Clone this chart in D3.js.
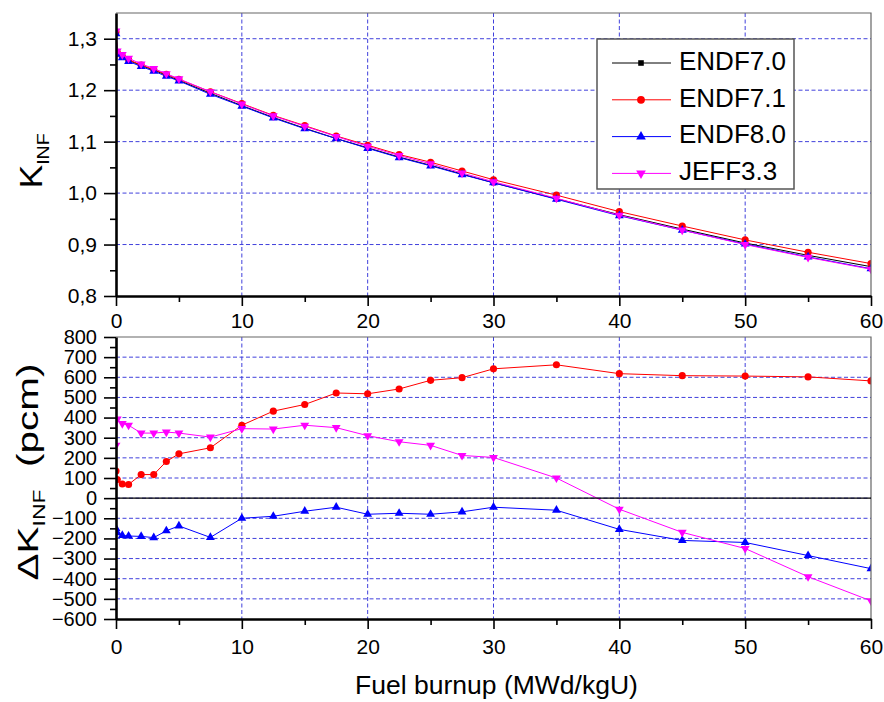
<!DOCTYPE html>
<html>
<head>
<meta charset="utf-8">
<script src="https://cdn.jsdelivr.net/npm/d3@7"></script>
<style>
body { margin: 0; background: #ffffff; }
svg text { font-family: "Liberation Sans", Arial, sans-serif; fill: #000; }
</style>
</head>
<body>
<div id="Chart"></div>
<script>
// ------------------------------------------------------------------
//	kinf / delta kinf vs burnup, four libraries
// ------------------------------------------------------------------
const burnup = [0, 0.1, 0.5, 1, 2, 3, 4, 5, 7.5, 10, 12.5, 15, 17.5, 20, 22.5, 25, 27.5, 30, 35, 40, 45, 50, 55, 60]

const k_endf70 = [1.312, 1.272, 1.265, 1.258, 1.248, 1.239, 1.229, 1.219, 1.194, 1.170, 1.147, 1.126, 1.106, 1.088, 1.070, 1.054, 1.037, 1.020, 0.989, 0.958, 0.930, 0.903, 0.879, 0.857]
const k_endf71 = [1.313, 1.273, 1.266, 1.259, 1.249, 1.240, 1.231, 1.221, 1.197, 1.174, 1.151, 1.131, 1.111, 1.093, 1.075, 1.060, 1.043, 1.026, 0.996, 0.964, 0.936, 0.909, 0.885, 0.863]
const k_endf80 = [1.310, 1.270, 1.263, 1.256, 1.246, 1.237, 1.227, 1.218, 1.192, 1.169, 1.146, 1.125, 1.106, 1.087, 1.069, 1.053, 1.036, 1.020, 0.988, 0.956, 0.928, 0.901, 0.876, 0.853]
const k_jeff33  = [1.315, 1.276, 1.269, 1.262, 1.251, 1.242, 1.232, 1.222, 1.197, 1.173, 1.150, 1.130, 1.110, 1.091, 1.073, 1.057, 1.039, 1.022, 0.990, 0.957, 0.928, 0.900, 0.875, 0.852]

// differences against ENDF7.0 (pcm)
const dk_endf71 = [135, 92, 70, 68, 117, 117, 182, 220, 250, 362, 432, 465, 522, 518, 542, 585, 598, 642, 662, 618, 608, 606, 602, 582]
const dk_endf80 = [-150, -172, -185, -188, -190, -196, -162, -138, -195, -100, -90, -65, -45, -80, -75, -80, -68, -45, -60, -155, -210, -220, -285, -350]
const dk_jeff33 = [262, 393, 370, 362, 323, 323, 328, 323, 303, 345, 343, 362, 350, 310, 280, 262, 212, 202, 100, -55, -170, -250, -390, -510]

const series_names = ["ENDF7.0", "ENDF7.1", "ENDF8.0", "JEFF3.3"]

const burnup_ticks = [0, 10, 20, 30, 40, 50, 60]
const burnup_minor = [5, 15, 25, 35, 45, 55]
const k_ticks = [0.8, 0.9, 1.0, 1.1, 1.2, 1.3]
const k_minor = [0.85, 0.95, 1.05, 1.15, 1.25]
const dk_ticks = [-600, -500, -400, -300, -200, -100, 0, 100, 200, 300, 400, 500, 600, 700, 800]
const dk_minor = [-550, -450, -350, -250, -150, -50, 50, 150, 250, 350, 450, 550, 650, 750]

// ------------------------------------------------------------------
const colors = ["#000000", "#ff0000", "#0000ff", "#ff00ff"]
const symbols = [
	{type: d3.symbolSquare, size: 26, rot: 0},
	{type: d3.symbolCircle, size: 40, rot: 0},
	{type: d3.symbolTriangle, size: 34, rot: 0},
	{type: d3.symbolTriangle, size: 34, rot: 180}
]
const grid_color = "#4040dc"
const width = 884
const height = 702
const left = 116, right = 871

const svg = d3.select("#Chart").append("svg")
	.attr("width", width)
	.attr("height", height)

const x = d3.scaleLinear().domain([0, 60]).range([left, right])
const y_top = d3.scaleLinear().domain([0.8, 1.35]).range([296, 13])
const y_bot = d3.scaleLinear().domain([-600, 800]).range([619, 337])

const comma = function (v) { return d3.format(".1f")(v).replace(".", ",") }

panel_proc("top", y_top, k_ticks, k_minor, comma,
	[k_endf70, k_endf71, k_endf80, k_jeff33], [0, 1, 2, 3], 322, 21)
panel_proc("bot", y_bot, dk_ticks, dk_minor, d3.format("d"),
	[dk_endf71, dk_endf80, dk_jeff33], [1, 2, 3], 648, 20)

// zero line of delta panel
svg.append("line")
	.attr("x1", left).attr("x2", right)
	.attr("y1", y_bot(0)).attr("y2", y_bot(0))
	.attr("stroke", "#000").attr("stroke-width", 1.2)

// axis titles (stretched along the text, like the original)
const t1 = svg.append("text")
	.attr("transform", "translate(42,161) rotate(-90) scale(1.15,1)")
	.attr("text-anchor", "middle")
	.style("font-size", "31px")
t1.append("tspan").text("K")
t1.append("tspan").attr("dy", 7).style("font-size", "17px").text("INF")

const t2 = svg.append("text")
	.attr("transform", "translate(38,472) rotate(-90) scale(1.35,1)")
	.attr("text-anchor", "middle")
	.style("font-size", "30px")
t2.append("tspan").text("\u0394K")
t2.append("tspan").attr("dy", 7).style("font-size", "17px").text("INF")
t2.append("tspan").attr("dy", -7).text("\u00a0\u00a0(pcm)")

svg.append("text")
	.attr("x", (left + right) / 2 + 3)
	.attr("y", 694)
	.attr("text-anchor", "middle")
	.style("font-size", "26.5px")
	.text("Fuel burnup (MWd/kgU)")

legend_proc()

// ------------------------------------------------------------------
function panel_proc (id, y, ticks, minor, fmt, data_list, idx_list, label_y, ylab_size)
{
const top = y.range()[1]
const bottom = y.range()[0]

const clip = svg.append("clipPath").attr("id", "clip_" + id)
clip.append("rect")
	.attr("x", left).attr("y", top)
	.attr("width", right - left).attr("height", bottom - top)

const g = svg.append("g")

// dashed grid
g.selectAll(".hgrid")
	.data(ticks.filter(function (t) { return y(t) > top + 1 && y(t) < bottom - 1 }))
	.enter().append("line")
	.attr("x1", left).attr("x2", right)
	.attr("y1", function (d) { return y(d) })
	.attr("y2", function (d) { return y(d) })
	.attr("stroke", grid_color)
	.attr("stroke-width", 1)
	.attr("stroke-dasharray", "4,2.5")

g.selectAll(".vgrid")
	.data(burnup_ticks.slice(1, -1))
	.enter().append("line")
	.attr("x1", function (d) { return x(d) })
	.attr("x2", function (d) { return x(d) })
	.attr("y1", top).attr("y2", bottom)
	.attr("stroke", grid_color)
	.attr("stroke-width", 1)
	.attr("stroke-dasharray", "4,2.5")

// series
const plot = svg.append("g").attr("clip-path", "url(#clip_" + id + ")")
const line = d3.line()
	.x(function (d) { return x(d[0]) })
	.y(function (d) { return y(d[1]) })

data_list.forEach(function (vals, i) {
	const k = idx_list[i]
	const pts = burnup.map(function (b, j) { return [b, vals[j]] })
	plot.append("path")
		.datum(pts)
		.attr("fill", "none")
		.attr("stroke", colors[k])
		.attr("stroke-width", 1)
		.attr("d", line)
	const sym = d3.symbol().type(symbols[k].type).size(symbols[k].size)
	plot.selectAll(".pt" + k)
		.data(pts)
		.enter().append("path")
		.attr("d", sym)
		.attr("fill", colors[k])
		.attr("transform", function (d) {
			return "translate(" + x(d[0]) + "," + y(d[1]) + ") rotate(" + symbols[k].rot + ")"
		})
})

// frame right / top
svg.append("path")
	.attr("d", "M" + left + "," + top + "H" + right + "V" + bottom)
	.attr("fill", "none")
	.attr("stroke", "#666")
	.attr("stroke-width", 1.2)

// y axis
const ya = svg.append("g")
	.attr("transform", "translate(" + left + ",0)")
	.call(d3.axisLeft(y).tickValues(ticks).tickFormat(fmt)
		.tickSize(12).tickPadding(7).tickSizeOuter(0))
svg.append("g")
	.attr("transform", "translate(" + left + ",0)")
	.call(d3.axisLeft(y).tickValues(minor).tickFormat("").tickSize(6).tickSizeOuter(0))
	.call(function (s) { s.select(".domain").remove() })

// x axis
const xa = svg.append("g")
	.attr("transform", "translate(0," + bottom + ")")
	.call(d3.axisBottom(x).tickValues(burnup_ticks).tickFormat(d3.format("d"))
		.tickSize(10).tickPadding(6).tickSizeOuter(0))
svg.append("g")
	.attr("transform", "translate(0," + bottom + ")")
	.call(d3.axisBottom(x).tickValues(burnup_minor).tickFormat("").tickSize(6).tickSizeOuter(0))
	.call(function (s) { s.select(".domain").remove() })

svg.selectAll(".domain").attr("stroke", "#000").attr("stroke-width", 2.6)
svg.selectAll(".tick line").attr("stroke", "#000").attr("stroke-width", 1.6)

ya.selectAll("text").style("font-size", ylab_size + "px")
xa.selectAll("text")
	.style("font-size", "21px")
	.attr("dy", null)
	.attr("y", null)
	.attr("transform", "translate(0," + (label_y - bottom) + ")")
	.attr("dominant-baseline", "middle")
}

// ------------------------------------------------------------------
function legend_proc ()
{
const lg = svg.append("g")
lg.append("rect")
	.attr("x", 597).attr("y", 39)
	.attr("width", 197).attr("height", 150)
	.attr("fill", "#fff")
	.attr("stroke", "#555")
	.attr("stroke-width", 1.5)

const rows = lg.selectAll(".row")
	.data(series_names)
	.enter().append("g")
	.attr("transform", function (d, i) { return "translate(0," + (63 + i * 36.8) + ")" })

rows.append("line")
	.attr("x1", 612).attr("x2", 671)
	.attr("stroke", function (d, i) { return colors[i] })
	.attr("stroke-width", 1)
rows.append("path")
	.attr("d", function (d, i) { return d3.symbol().type(symbols[i].type).size(symbols[i].size * 1.2)() })
	.attr("fill", function (d, i) { return colors[i] })
	.attr("transform", function (d, i) { return "translate(641,0) rotate(" + symbols[i].rot + ")" })
rows.append("text")
	.attr("x", 679)
	.attr("dominant-baseline", "middle")
	.style("font-size", "26px")
	.text(function (d) { return d })
}
// ------------------------------------------------------------------
</script>
</body>
</html>
